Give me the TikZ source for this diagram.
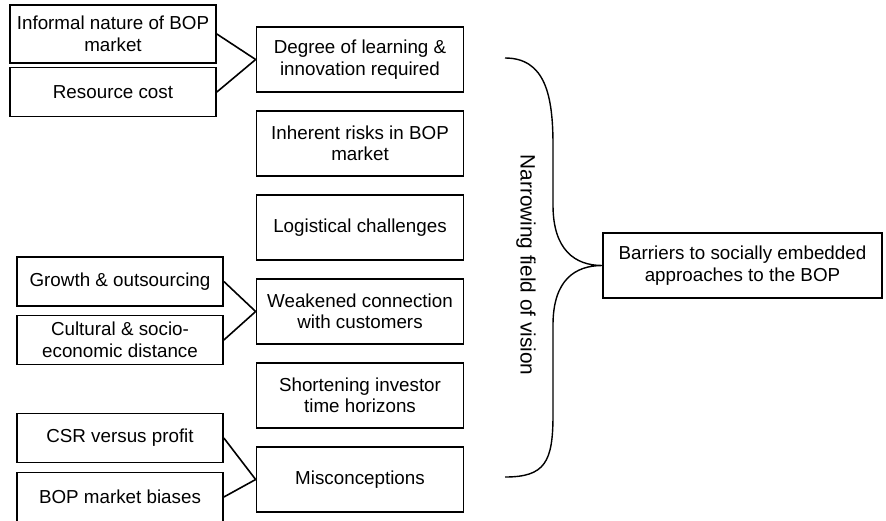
\documentclass[tikz,border=0pt]{standalone}
\usepackage{fontspec}
\setmainfont{Liberation Sans}
\usetikzlibrary{positioning}

\begin{document}
\begin{tikzpicture}[x=1pt,y=-1pt]
        \tikzstyle{box}=[rectangle, draw, line width=1.7pt, align=center, inner sep=0pt, font=\fontsize{18.8}{21.5}\selectfont]
        \tikzstyle{mid}=[box, minimum width=207pt, minimum height=65pt]
        \tikzstyle{side}=[box, minimum width=206pt, minimum height=49pt]
        \tikzstyle{link}=[line width=1.6pt]

        \useasboundingbox (0,0) rectangle (886,520);

        % middle column, one under the other
        \node[mid] (deg) at (360,59.5) {Degree of learning \&\\innovation required};
        \node[mid, below=17.3pt of deg] (risk) {Inherent risks in BOP\\market};
        \node[mid, below=17.3pt of risk] (logi) {Logistical challenges};
        \node[mid, below=17.3pt of logi] (weak) {Weakened connection\\with customers};
        \node[mid, below=17.3pt of weak] (inv) {Shortening investor\\time horizons};
        \node[mid, below=17.3pt of inv] (misc) {Misconceptions};

        % causes on the left
        \node[side, minimum height=58pt] (inf) at (113,34) {Informal nature of BOP\\market};
        \node[side] (res) at (113,92) {Resource cost};
        \node[side] (grow) at (120,281.5) {Growth \& outsourcing};
        \node[side] (cult) at (120,340) {Cultural \& socio-\\economic distance};
        \node[side] (csr) at (120,438) {CSR versus profit};
        \node[side] (bias) at (120,497) {BOP market biases};

        \draw[link] (inf.east) -- (deg.west);
        \draw[link] (res.east) -- (deg.west);
        \draw[link] (grow.east) -- (weak.west);
        \draw[link] (cult.east) -- (weak.west);
        \draw[link] (csr.east) -- (misc.west);
        \draw[link] (bias.east) -- (misc.west);

        % the brace and the outcome
        \node[box, minimum width=279pt, minimum height=65pt] (bar) at (742.5,265.5) {Barriers to socially embedded\\approaches to the BOP};
        \coordinate (top) at (505,58);
        \coordinate (bot) at (505,477);
        \draw[line width=1.4pt] (top) .. controls (545,58) and (553,95) .. (553,145) -- (553,205)
            .. controls (553,250) and (575,265.5) .. (bar.west)
            .. controls (575,265.5) and (553,280) .. (553,325) -- (553,415)
            .. controls (553,462) and (545,477) .. (bot);
        \node[rotate=-90, font=\fontsize{20.8}{23}\selectfont] (nfv) at (526,265) {Narrowing field of vision};

    \end{tikzpicture}
\end{document}
